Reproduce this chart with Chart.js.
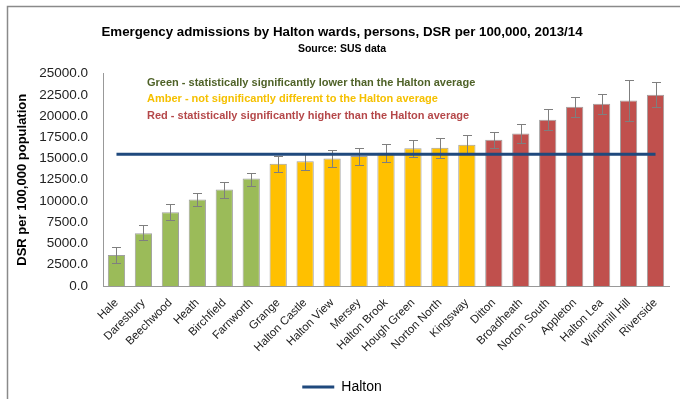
<!DOCTYPE html>
<html>
<head>
<meta charset="utf-8">
<script src="https://cdn.jsdelivr.net/npm/chart.js@4.4.1/dist/chart.umd.min.js"></script>
<style>
  html, body { margin: 0; padding: 0; background: #fff; }
  #wrap { width: 680px; height: 399px; position: relative; }
</style>
</head>
<body>
<div id="wrap"><canvas id="chart1"></canvas></div>
<script>
// Wards ordered by DSR (lowest to highest)
const wards = ['Hale', 'Daresbury', 'Beechwood', 'Heath', 'Birchfield', 'Farnworth', 'Grange',
  'Halton Castle', 'Halton View', 'Mersey', 'Halton Brook', 'Hough Green', 'Norton North',
  'Kingsway', 'Ditton', 'Broadheath', 'Norton South', 'Appleton', 'Halton Lea', 'Windmill Hill', 'Riverside'];

const dsr = [3640, 6220, 8690, 10180, 11350, 12640, 14400, 14670, 14990, 15290, 15690,
  16200, 16280, 16630, 17220, 17960, 19560, 21090, 21440, 21830, 22500];

// 95% confidence limits
const lowerCI = [2660, 5360, 7710, 9470, 10410, 11770, 13410, 13690, 14000, 14280, 14630,
  15200, 15100, 15570, 16280, 16860, 18390, 19920, 20270, 19450, 21090];
const upperCI = [4620, 7120, 9660, 10950, 12240, 13300, 15290, 15690, 15960, 16230, 16750,
  17220, 17450, 17800, 18080, 19100, 20810, 22220, 22620, 24260, 24030];

// significance vs Halton: G = lower, A = not different, R = higher
const significance = ['G', 'G', 'G', 'G', 'G', 'G', 'A', 'A', 'A', 'A', 'A',
  'A', 'A', 'A', 'R', 'R', 'R', 'R', 'R', 'R', 'R'];

const haltonAvg = [15500, 15500, 15500, 15500, 15500, 15500, 15500, 15500, 15500, 15500, 15500,
  15500, 15500, 15500, 15500, 15500, 15500, 15500, 15500, 15500, 15500];

const yTicks = [0, 2500, 5000, 7500, 10000, 12500, 15000, 17500, 20000, 22500, 25000];

const sigColors = { G: '#9bbb59', A: '#ffc000', R: '#c0504d' };
const notes = [
  { text: 'Green - statistically significantly lower than the Halton average', color: '#4f6228' },
  { text: 'Amber - not significantly different to the Halton average', color: '#f5c000' },
  { text: 'Red - statistically significantly higher than the Halton average', color: '#b5484a' }
];

const font = "'Liberation Sans', Arial, sans-serif";

// white background + frame lines (left and top only, like the original)
const framePlugin = {
  id: 'frame',
  beforeDraw(chart) {
    const ctx = chart.ctx;
    ctx.save();
    ctx.fillStyle = '#fff';
    ctx.fillRect(0, 0, chart.width, chart.height);
    ctx.strokeStyle = '#8a8a8a';
    ctx.lineWidth = 1.5;
    ctx.beginPath();
    ctx.moveTo(7.5, chart.height);
    ctx.lineTo(7.5, 6.5);
    ctx.lineTo(chart.width, 6.5);
    ctx.stroke();
    ctx.restore();
  }
};

// error bars drawn right after the bars, before the Halton line
const errorBarPlugin = {
  id: 'errorBars',
  afterDatasetDraw(chart, args) {
    if (args.meta.type !== 'bar') return;
    const ctx = chart.ctx;
    const y = chart.scales.y;
    ctx.save();
    ctx.strokeStyle = '#7f7f7f';
    ctx.lineWidth = 1;
    args.meta.data.forEach((bar, i) => {
      const x = Math.round(bar.x) + 0.5;
      const yHi = Math.round(y.getPixelForValue(upperCI[i])) + 0.5;
      const yLo = Math.round(y.getPixelForValue(lowerCI[i])) + 0.5;
      ctx.beginPath();
      ctx.moveTo(x, yHi); ctx.lineTo(x, yLo);
      ctx.moveTo(x - 4.5, yHi); ctx.lineTo(x + 4.5, yHi);
      ctx.moveTo(x - 4.5, yLo); ctx.lineTo(x + 4.5, yLo);
      ctx.stroke();
    });
    ctx.restore();
  }
};

// colour key text box inside the plot
const notesPlugin = {
  id: 'notes',
  afterDraw(chart) {
    const ctx = chart.ctx;
    const area = chart.chartArea;
    ctx.save();
    ctx.font = "bold 11px " + font;
    ctx.textBaseline = 'middle';
    notes.forEach((n, i) => {
      ctx.fillStyle = n.color;
      ctx.fillText(n.text, area.left + 44, area.top + 9 + i * 16.5);
    });
    ctx.restore();
  }
};

const ctx = document.getElementById('chart1').getContext('2d');
new Chart(ctx, {
  data: {
    labels: wards,
    datasets: [
      {
        type: 'line',
        label: 'Halton',
        data: haltonAvg,
        borderColor: '#1f497d',
        backgroundColor: '#1f497d',
        borderWidth: 3,
        pointRadius: 0,
        order: 0
      },
      {
        type: 'bar',
        label: 'DSR',
        data: dsr,
        backgroundColor: significance.map(s => sigColors[s]),
        borderColor: '#a0a0a0',
        borderWidth: 1,
        barPercentage: 1,
        categoryPercentage: 0.64,
        order: 1
      }
    ]
  },
  options: {
    responsive: true,
    maintainAspectRatio: false,
    animation: false,
    layout: { padding: { left: 15, right: 11, top: 0, bottom: -5 } },
    scales: {
      x: {
        grid: { display: false },
        border: { display: true, color: '#999', width: 1 },
        afterFit(scale) { scale.height = 92; },
        ticks: {
          color: '#222',
          font: { family: font, size: 11.5 },
          minRotation: 45,
          maxRotation: 45,
          autoSkip: false,
          padding: 2
        }
      },
      y: {
        min: 0,
        max: 25000,
        grid: { display: false },
        border: { display: true, color: '#999', width: 1 },
        afterBuildTicks(scale) {
          scale.ticks = yTicks.map(v => ({ value: v }));
        },
        afterFit(scale) { scale.width = 88; },
        ticks: {
          color: '#222',
          font: { family: font, size: 13.5 },
          padding: 7,
          callback: v => Number(v).toFixed(1)
        },
        title: {
          display: true,
          text: 'DSR per 100,000 population',
          color: '#000',
          font: { family: font, size: 13, weight: 'bold' },
          padding: { top: 0, bottom: 4 }
        }
      }
    },
    plugins: {
      title: {
        display: true,
        text: 'Emergency admissions by Halton wards, persons, DSR per 100,000, 2013/14',
        color: '#000',
        font: { family: font, size: 13.3, weight: 'bold' },
        padding: { top: 24, bottom: 3 }
      },
      subtitle: {
        display: true,
        text: 'Source: SUS data',
        color: '#000',
        font: { family: font, size: 10.5, weight: 'bold' },
        padding: { top: 0, bottom: 18 }
      },
      legend: {
        position: 'bottom',
        labels: {
          filter: item => item.text === 'Halton',
          usePointStyle: true,
          pointStyle: 'line',
          pointStyleWidth: 32,
          color: '#000',
          font: { family: font, size: 14 },
          padding: 2
        }
      },
      tooltip: { enabled: false }
    }
  },
  plugins: [framePlugin, errorBarPlugin, notesPlugin]
});
</script>
</body>
</html>
